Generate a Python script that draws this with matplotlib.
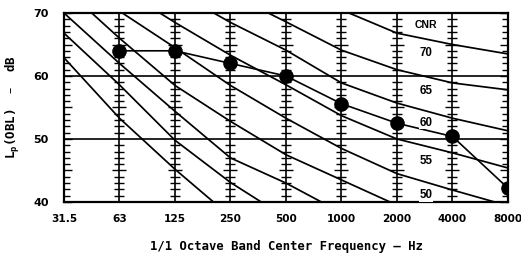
import matplotlib
matplotlib.use("Agg")
import matplotlib.pyplot as plt
import numpy as np

# ---- data ----
freq_labels = ["31.5", "63", "125", "250", "500", "1000", "2000", "4000", "8000"]
spectrum = [None, 64.0, 64.0, 62.0, 60.0, 55.6, 52.5, 50.4, 42.2]  # L_p(OBL) per band

cnr30 = [62.9, 53.3, 45.2, 37.7, 33.0, 30.0, 28.0, 26.0, 24.0]
cnr35 = [66.8, 58.6, 49.8, 43.1, 37.5, 34.0, 32.0, 30.0, 28.0]
cnr40 = [70.0, 62.0, 54.4, 47.0, 43.0, 38.3, 36.0, 34.0, 32.0]
cnr45 = [74.0, 66.0, 58.5, 52.8, 47.5, 43.5, 39.5, 37.0, 34.5]
cnr50 = [77.0, 70.3, 64.5, 58.5, 53.3, 48.5, 44.5, 41.9, 39.4]
cnr55 = [80.0, 74.0, 68.5, 63.3, 58.6, 53.7, 50.0, 47.8, 45.4]
cnr60 = [83.0, 78.0, 73.5, 68.5, 64.1, 58.9, 55.7, 53.3, 51.3]
cnr65 = [86.0, 82.0, 77.5, 73.0, 68.6, 64.1, 61.0, 58.9, 57.8]
cnr70 = [89.0, 86.0, 82.0, 78.5, 74.5, 70.5, 66.8, 65.0, 63.5]
cnr_curves = [cnr30, cnr35, cnr40, cnr45, cnr50, cnr55, cnr60, cnr65, cnr70]

label_values = ["CNR", "70", "65", "60", "55", "50"]
label_levels = [68.1, 63.6, 57.6, 52.6, 46.5, 41.1]

y_ticks = [40, 45, 50, 55, 60, 65, 70]
y_ticklabels = ["40", "", "50", "", "60", "", "70"]

# ---- figure ----
fig = plt.figure(figsize=(5.21, 2.59), dpi=100)
ax = fig.add_axes([0.1228, 0.2201, 0.8522, 0.7297])
x = np.arange(len(freq_labels))

for c in cnr_curves:
    ax.plot(x, c, color="black", lw=1.25, solid_capstyle="butt", zorder=2)

# vertical band lines with dB ticks
minor_levels = np.arange(41, 70)
for xi in x[1:-1]:
    ax.axvline(xi, color="black", lw=1.2, zorder=1)
    small = [v for v in minor_levels if v % 5 != 0]
    big = [v for v in minor_levels if v % 5 == 0 and v % 10 != 0]
    ax.plot([xi] * len(small), small, ls="none", marker="_", ms=6.5, mew=1.0,
            color="black", zorder=1)
    ax.plot([xi] * len(big), big, ls="none", marker="_", ms=9.5, mew=1.0,
            color="black", zorder=1)

for yv in (50, 60):
    ax.axhline(yv, color="black", lw=1.2, zorder=1)

# spectrum
sx = [xi for xi, v in zip(x, spectrum) if v is not None]
sy = [v for v in spectrum if v is not None]
ax.plot(sx, sy, color="black", lw=1.2, marker="o", ms=9.5, zorder=4)

# curve labels
for t, lv in zip(label_values, label_levels):
    ax.text(6.52, lv, t, ha="center", va="center",
            fontsize=7.5 if t == "CNR" else 8.3,
            fontweight="bold", family="Liberation Sans", zorder=5,
            bbox=dict(facecolor="white", edgecolor="none", pad=0.5))

ax.set_xlim(0, 8)
ax.set_ylim(40, 70)
ax.set_xticks(x)
ax.set_xticklabels(freq_labels, fontsize=7.6, fontweight="bold", family="DejaVu Sans")
ax.set_yticks(y_ticks)
ax.set_yticklabels(y_ticklabels, fontsize=8.0, fontweight="bold", family="DejaVu Sans")
ax.set_yticks(np.arange(40, 71, 1), minor=True)
ax.tick_params(axis="x", length=0, pad=9)
ax.tick_params(axis="y", which="major", direction="in", length=6, width=1.0,
               right=True, pad=11)
ax.tick_params(axis="y", which="minor", direction="in", length=4, width=1.0,
               right=True)
for sp in ax.spines.values():
    sp.set_linewidth(1.6)

ax.set_xlabel("1/1 Octave Band Center Frequency \u2013 Hz", fontsize=8.8,
              fontweight="bold", family="DejaVu Sans Mono", labelpad=11)
ax.set_ylabel("L$_\\mathregular{p}$(OBL)  \u2013  dB", fontsize=9.0,
              fontweight="bold", family="DejaVu Sans Mono", labelpad=8)

fig.savefig("out.png", dpi=100)
